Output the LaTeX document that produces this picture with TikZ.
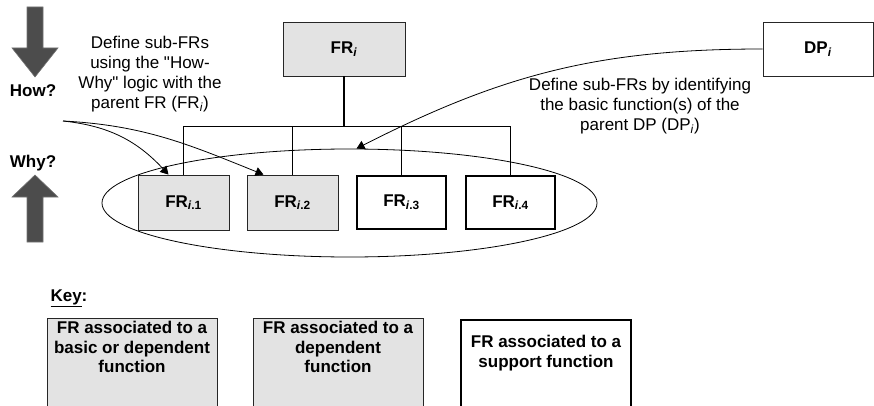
\documentclass[tikz,border=0pt]{standalone}
\usepackage{fontspec}
\setmainfont{Liberation Sans}
\usetikzlibrary{arrows.meta}
\usetikzlibrary{shapes.geometric}

\begin{document}
\begin{tikzpicture}[x=1pt, y=1pt,
    every node/.style={font=\fontsize{17}{20}\selectfont},
    greybox/.style={draw=black!85, fill=black!11, line width=0.8pt, minimum width=91pt, minimum height=55pt, inner sep=0pt, font=\fontsize{17}{20}\selectfont\bfseries},
    supbox/.style={draw=black, fill=white, line width=2.4pt, minimum width=89pt, minimum height=53pt, inner sep=0pt, font=\fontsize{17}{20}\selectfont\bfseries},
    keybox/.style={anchor=north, minimum width=170pt, minimum height=100pt, inner sep=0pt},
    keytext/.style={below, align=center, font=\fontsize{17}{19.5}\selectfont\bfseries},
    bigarrow/.style={fill=black!70, draw=black!55, line width=0.6pt},
    link/.style={line width=0.8pt, -{Triangle[length=8pt, width=9pt]}},
    tree/.style={line width=0.8pt}]

    \useasboundingbox (0,0) rectangle (874,405);

    % how / why
    \draw[bigarrow] (27,398) -- (43,398) -- (43,357) -- (58,357) -- (35,328) -- (12,357) -- (27,357) -- cycle;
    \draw[bigarrow] (27,163) -- (43,163) -- (43,208) -- (58,208) -- (35,230) -- (12,208) -- (27,208) -- cycle;
    \node[font=\fontsize{17}{20}\selectfont\bfseries] (how) at (33,314) {How?};
    \node[font=\fontsize{17}{20}\selectfont\bfseries] (why) at (33,242) {Why?};

    % parents
    \node[greybox, minimum width=122pt, minimum height=54pt] (fri) at (344,356) {FR\textsubscript{\textit{i}}};
    \node[greybox, fill=white, minimum width=110pt, minimum height=54pt] (dpi) at (818,356) {DP\textsubscript{\textit{i}}};

    % sub-FRs
    \node[draw, ellipse, line width=0.8pt, minimum width=495pt, minimum height=108pt, inner sep=0pt] (group) at (349.5,202) {};
    \node[greybox] (fr1) at (183.5,202.5) {FR\textsubscript{\textit{i}.1}};
    \node[greybox] (fr2) at (292.5,202.5) {FR\textsubscript{\textit{i}.2}};
    \node[supbox] (fr3) at (401.5,202.5) {FR\textsubscript{\textit{i}.3}};
    \node[supbox] (fr4) at (510.5,202.5) {FR\textsubscript{\textit{i}.4}};

    \coordinate (bus) at (344,279);
    \draw[line width=1.8pt] (fri.south) -- (bus);
    \draw[tree] (fr1.north) |- (fr4.north |- bus) -- (fr4.north);
    \draw[tree] (fr2.north) -- (fr2.north |- bus);
    \draw[tree] (fr3.north) -- (fr3.north |- bus);

    % notes
    \node[align=center] (notefr) at (150,331) {Define sub-FRs\\using the \textquotedbl How-\\Why\textquotedbl{} logic with the\\parent FR (FR\textsubscript{\textit{i}})};
    \node[align=center] (notedp) at (640,299) {Define sub-FRs by identifying\\the basic function(s) of the\\parent DP (DP\textsubscript{\textit{i}})};

    \coordinate (howwhy) at (63,284);
    \draw[link] (howwhy) to[out=-6, in=133] ([xshift=-15pt]fr1.north);
    \draw[link] (howwhy) to[out=-3, in=158] ([xshift=-29pt]fr2.north);
    \draw[link] (dpi.west) to[out=180, in=27] ([xshift=7pt]group.north);

    % key
    \node[anchor=west, font=\fontsize{17}{20}\selectfont\bfseries] (key) at (47,107) {\underline{Key}:};
    \node[keybox, draw=black!85, fill=black!11, line width=0.8pt] (keyone) at (132,87) {};
    \node[keytext] (keyonetext) at (keyone.north) {FR associated to a\\basic or dependent\\function};
    \node[keybox, draw=black!85, fill=black!11, line width=0.8pt] (keytwo) at (338,87) {};
    \node[keytext] (keytwotext) at (keytwo.north) {FR associated to a\\dependent\\function};
    \node[keybox, draw=black, line width=2.4pt] (keythree) at (546,86) {};
    \node[keytext] (keythreetext) at ([yshift=-13pt]keythree.north) {FR associated to a\\support function};

\end{tikzpicture}
\end{document}
